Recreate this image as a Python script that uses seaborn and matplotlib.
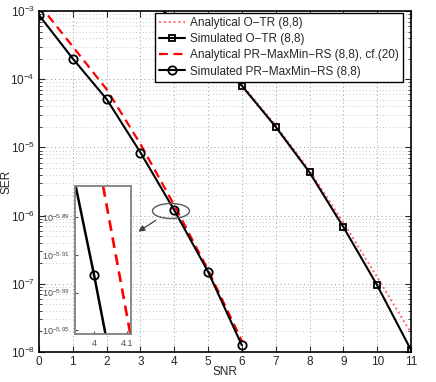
import numpy as np
import pandas as pd
import matplotlib
matplotlib.use("Agg")
import matplotlib.pyplot as plt
import seaborn as sns
from matplotlib.patches import Ellipse
from matplotlib.ticker import LogLocator, NullFormatter, FixedLocator, NullLocator

# ---- data ----
snr_pr = [0, 1, 2, 3, 4, 5, 6]
ser_pr_sim = [8.7e-4, 2.0e-4, 5.1e-5, 8.4e-6, 1.2e-6, 1.5e-7, 1.25e-8]
ser_pr_ana = [1.26e-3, 3.0e-4, 7.1e-5, 1.12e-5, 1.42e-6, 1.6e-7, 1.45e-8]
snr_otr = [3, 4, 5, 6, 7, 8, 9, 10, 11]
ser_otr_sim = [2.0e-3, 7.2e-4, 2.4e-4, 8.0e-5, 2.0e-5, 4.3e-6, 6.8e-7, 9.5e-8, 1.07e-8]
ser_otr_ana = [2.5e-3, 7.4e-4, 2.5e-4, 8.3e-5, 2.1e-5, 4.6e-6, 7.9e-7, 1.25e-7, 1.9e-8]

labels = ["Analytical O\u2212TR (8,8)",
          "Simulated O\u2212TR (8,8)",
          "Analytical PR\u2212MaxMin\u2212RS (8,8), cf.(20)",
          "Simulated PR\u2212MaxMin\u2212RS (8,8)"]
x_ticks = list(range(0, 12))

sns.set_style("ticks")
plt.rcParams['font.family'] = ['Liberation Sans', 'DejaVu Sans']
plt.rcParams['mathtext.fontset'] = 'custom'
plt.rcParams['mathtext.rm'] = 'Liberation Sans'
plt.rcParams['mathtext.it'] = 'Liberation Sans:italic'
plt.rcParams['mathtext.bf'] = 'Liberation Sans:bold'

fig = plt.figure(figsize=(4.36, 3.82), dpi=100)
ax = fig.add_axes([39/436, 30/382, 372/436, 341/382])


def draw(a, lw_scale=1.0, legend=True):
    sns.lineplot(x=snr_otr, y=ser_otr_ana, ax=a, color=(1.0, 0.4, 0.4),
                 linestyle=(0, (1, 1.5)), lw=1.4 * lw_scale,
                 label=labels[0] if legend else None)
    sns.lineplot(x=snr_otr, y=ser_otr_sim, ax=a, color='black', lw=1.5 * lw_scale,
                 marker='s', markersize=5, markerfacecolor='none',
                 markeredgecolor='black', markeredgewidth=1.3,
                 label=labels[1] if legend else None)
    sns.lineplot(x=snr_pr, y=ser_pr_ana, ax=a, color='red', lw=1.6 * lw_scale,
                 linestyle=(0, (4, 2.5)),
                 label=labels[2] if legend else None)
    sns.lineplot(x=snr_pr, y=ser_pr_sim, ax=a, color='black', lw=1.5 * lw_scale,
                 marker='o', markersize=6, markerfacecolor='none',
                 markeredgecolor='black', markeredgewidth=1.3,
                 label=labels[3] if legend else None)


draw(ax)
ax.set_yscale('log')
ax.set_xlim(0, 11)
ax.set_ylim(1e-8, 1e-3)
ax.set_xticks(x_ticks)
ax.yaxis.set_major_locator(LogLocator(base=10, numticks=10))
ax.yaxis.set_minor_locator(LogLocator(base=10, subs=np.arange(2, 10), numticks=10))
ax.yaxis.set_minor_formatter(NullFormatter())
ax.grid(True, which='major', ls=(0, (1, 3)), color='0.6', lw=0.7)
ax.grid(True, which='minor', axis='y', ls=(0, (1, 3)), color='0.7', lw=0.6)
ax.tick_params(which='both', direction='in', top=True, right=True, labelsize=8.5, pad=3)
ax.tick_params(which='major', length=4)
ax.tick_params(which='minor', length=2)
for s in ax.spines.values():
    s.set_linewidth(1.2)
    s.set_color('black')
ax.set_xlabel("SNR", fontsize=8.5)
ax.set_ylabel("SER", fontsize=8.5)
ax.xaxis.set_label_coords(0.5, (352-366)/341)
ax.yaxis.set_label_coords((12-39)/372, 0.5)

leg = ax.legend(loc='upper right', bbox_to_anchor=((403-39)/372, (352-13)/341),
                borderaxespad=0, fontsize=8.5, frameon=True, fancybox=False,
                framealpha=1, edgecolor='black', handlelength=2.2,
                handletextpad=0.4, labelspacing=0.35, borderpad=0.35)
leg.get_frame().set_linewidth(1.0)

# annotation ellipse and arrow
ell = Ellipse((171/436, (382-211)/382), 37/436, 15/382, transform=fig.transFigure,
              fill=False, edgecolor='0.35', lw=1.0)
fig.patches.append(ell)
ax.annotate("", xy=(136/436, (382-233)/382), xycoords='figure fraction',
            xytext=(158/436, (382-219)/382), textcoords='figure fraction',
            arrowprops=dict(arrowstyle='-|>', color='0.25', lw=0.9,
                            mutation_scale=9))

# inset
axi = fig.add_axes([75/436, (382-334)/382, 56/436, 148/382])
draw(axi, lw_scale=1.2, legend=False)
axi.set_yscale('log')
axi.set_xlim(3.942, 4.112)
axi.set_ylim(10**-5.952, 10**-5.8735)
axi.xaxis.set_major_locator(FixedLocator([4, 4.1]))
axi.set_xticklabels(["4", "4.1"])
yt = [-5.89, -5.91, -5.93, -5.95]
axi.yaxis.set_major_locator(FixedLocator([10**v for v in yt]))
axi.yaxis.set_minor_locator(NullLocator())
axi.set_yticklabels([r"$10^{%.2f}$" % v for v in yt])
axi.tick_params(which='both', direction='in', labelsize=6.5, colors='0.3',
                length=2, top=False, right=False)
axi.set_xlabel("")
axi.set_ylabel("")
axi.set_facecolor('white')
for s in axi.spines.values():
    s.set_linewidth(1.3)
    s.set_color('0.5')

fig.savefig("out.png", dpi=100)
